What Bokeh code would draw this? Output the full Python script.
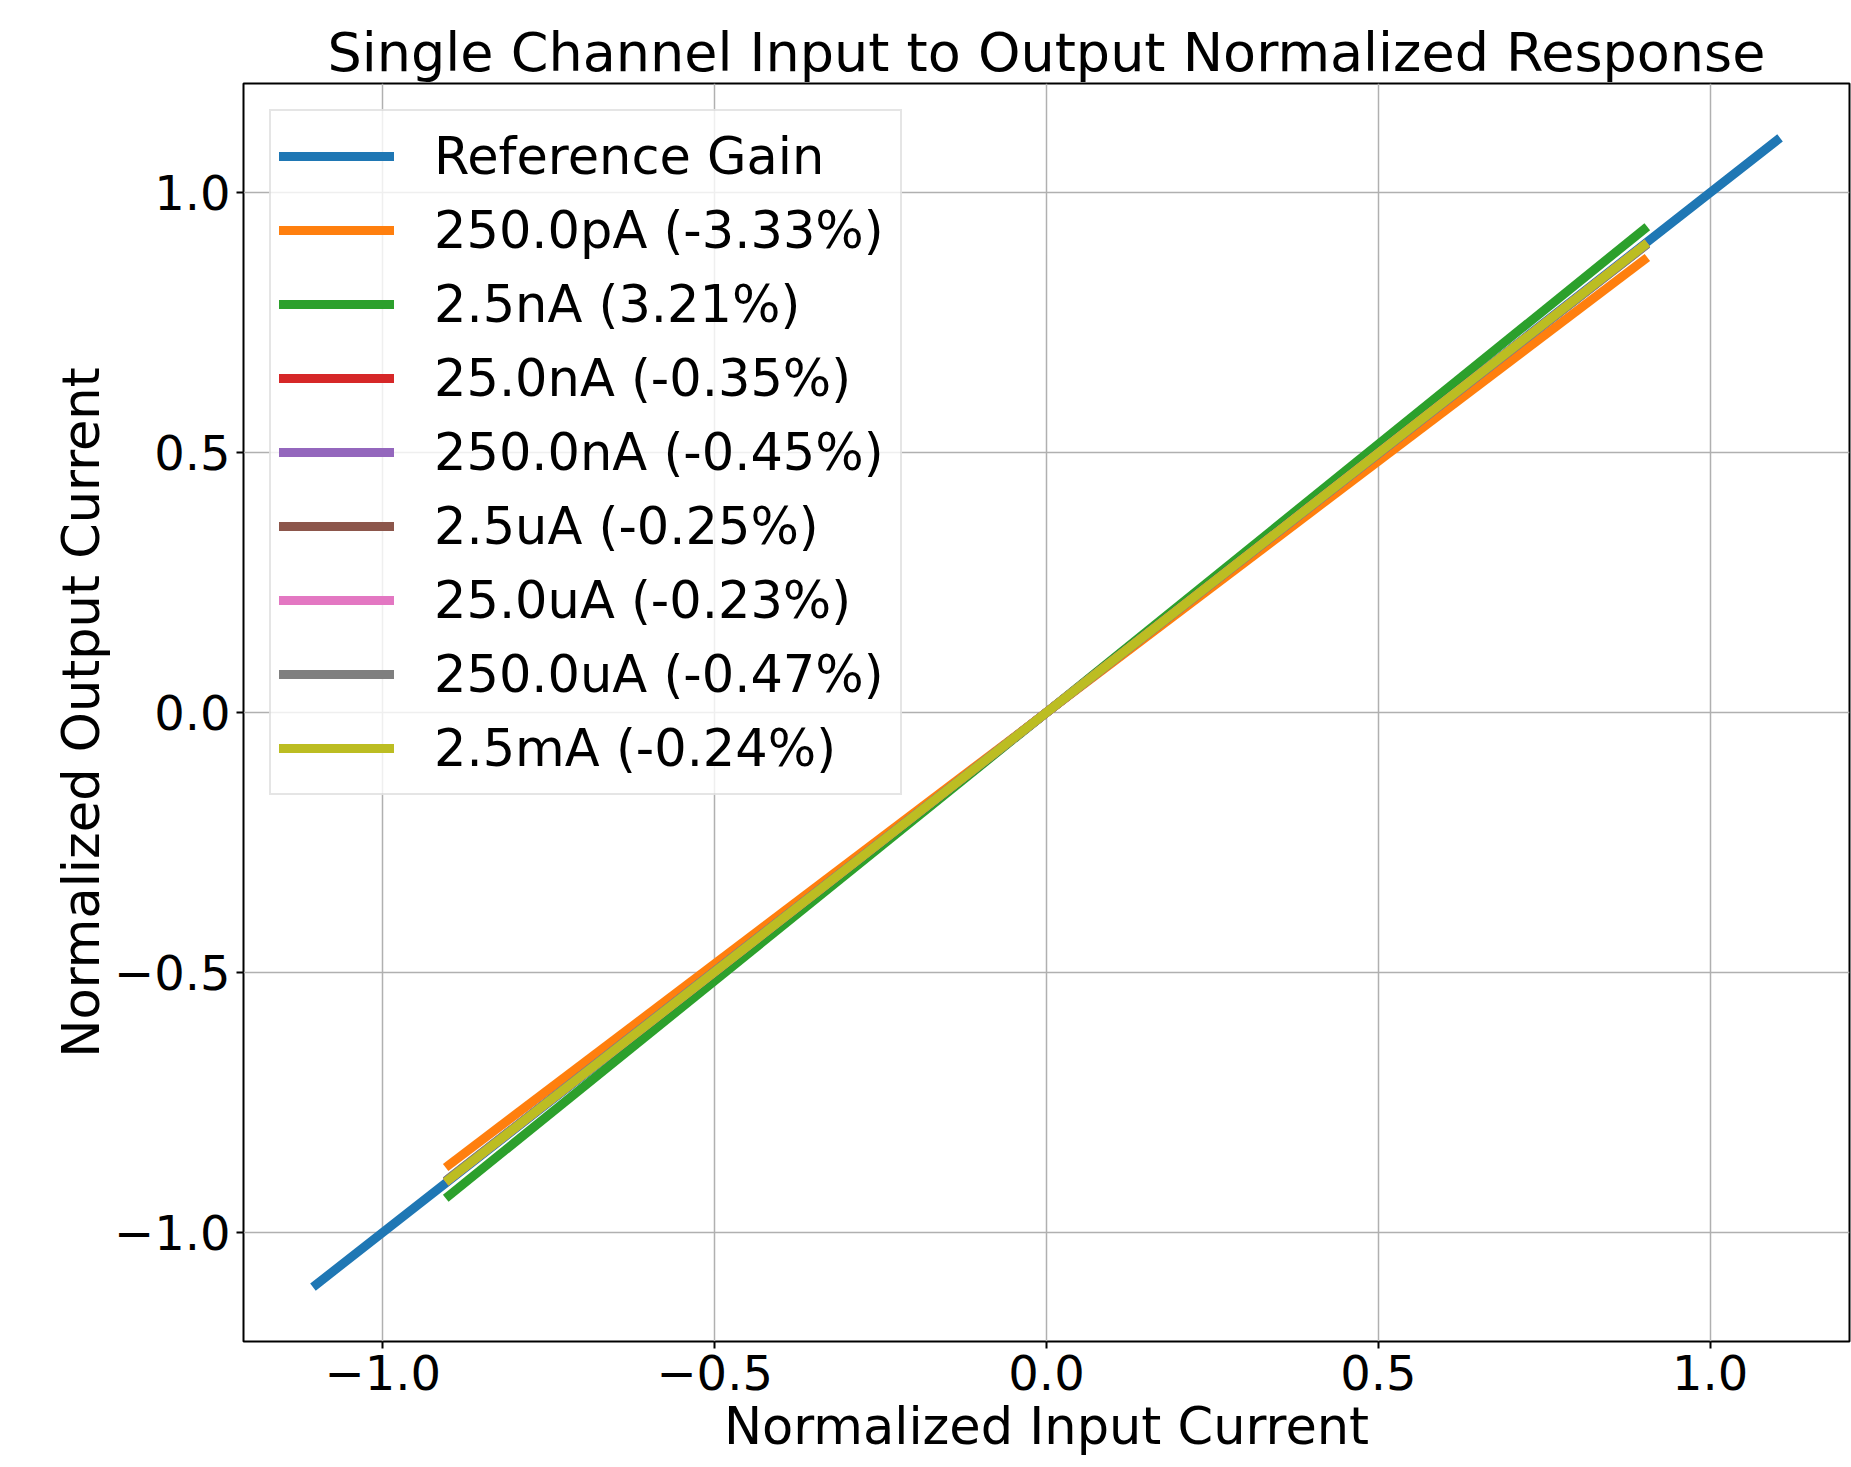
from bokeh.plotting import figure
from bokeh.models import Range1d, FixedTicker, Legend, LegendItem
from bokeh.embed import file_html
from bokeh.resources import INLINE

# ---- data ----
title_text = "Single Channel Input to Output Normalized Response"
x_label = "Normalized Input Current"
y_label = "Normalized Output Current"

ref_name = "Reference Gain"
ref_x = [-1.1, 1.1]
ref_y = [-1.1, 1.1]

series_names = [
    "250.0pA (-3.33%)",
    "2.5nA (3.21%)",
    "25.0nA (-0.35%)",
    "250.0nA (-0.45%)",
    "2.5uA (-0.25%)",
    "25.0uA (-0.23%)",
    "250.0uA (-0.47%)",
    "2.5mA (-0.24%)",
]
input_x = [-0.9, 0.9]
series_y = [
    [-0.870, 0.870],
    [-0.929, 0.929],
    [-0.8969, 0.8969],
    [-0.8960, 0.8960],
    [-0.8978, 0.8978],
    [-0.8979, 0.8979],
    [-0.8958, 0.8958],
    [-0.8978, 0.8978],
]
tick_values = [-1.0, -0.5, 0.0, 0.5, 1.0]
tick_labels = ["\u22121.0", "\u22120.5", "0.0", "0.5", "1.0"]

# ---- style ----
colors = ["#ff7f0e", "#2ca02c", "#d62728", "#9467bd",
          "#8c564b", "#e377c2", "#7f7f7f", "#bcbd22"]
ref_color = "#1f77b4"
FONT = "DejaVu Sans"
LW = 9

p = figure(width=1851, height=1467, output_backend="svg", toolbar_location=None,
           x_range=Range1d(-1.21, 1.21), y_range=Range1d(-1.21, 1.21),
           min_border_left=243, min_border_right=2, min_border_top=83,
           min_border_bottom=126)
p.background_fill_color = "white"
p.border_fill_color = "white"
p.outline_line_color = "black"
p.outline_line_width = 2

p.title.text = title_text
p.title.align = "center"
p.title.text_font = FONT
p.title.text_font_size = "54px"
p.title.text_font_style = "normal"
p.title.text_color = "black"
p.title.standoff = 0

items = []
r = p.line(ref_x, ref_y, color=ref_color, line_width=LW, line_cap="square")
items.append(LegendItem(label=ref_name, renderers=[r]))
for name, ys, c in zip(series_names, series_y, colors):
    r = p.line(input_x, ys, color=c, line_width=LW, line_cap="square")
    items.append(LegendItem(label=name, renderers=[r]))

for ax, lab in ((p.xaxis[0], x_label), (p.yaxis[0], y_label)):
    ax.ticker = FixedTicker(ticks=tick_values, minor_ticks=[])
    ax.major_label_overrides = {v: t for v, t in zip(tick_values, tick_labels)}
    ax.axis_label = lab
    ax.axis_label_text_font = FONT
    ax.axis_label_text_font_size = "51px"
    ax.axis_label_text_font_style = "normal"
    ax.axis_label_text_color = "black"
    ax.major_label_text_font = FONT
    ax.major_label_text_font_size = "48px"
    ax.major_label_text_color = "black"
    ax.axis_line_color = None
    ax.major_tick_out = 7
    ax.major_tick_in = 0
    ax.major_tick_line_width = 2
    ax.major_tick_line_color = "black"
    ax.minor_tick_line_color = None
    ax.major_label_standoff = 6

p.xaxis[0].axis_label_standoff = 4
p.yaxis[0].axis_label_standoff = 0
p.yaxis[0].major_label_orientation = "horizontal"

for g in (p.xgrid[0], p.ygrid[0]):
    g.grid_line_color = "#b0b0b0"
    g.grid_line_width = 1.5
p.xgrid[0].ticker = FixedTicker(ticks=tick_values)
p.ygrid[0].ticker = FixedTicker(ticks=tick_values)

legend = Legend(items=items, location="top_left")
legend.margin = 26
legend.padding = 8
legend.spacing = 0
legend.glyph_width = 115
legend.glyph_height = 74
legend.label_height = 74
legend.label_width = 458
legend.label_standoff = 40
legend.label_text_font = FONT
legend.label_text_font_size = "51px"
legend.label_text_color = "black"
legend.border_line_color = "#cccccc"
legend.border_line_width = 2
legend.background_fill_color = "white"
legend.background_fill_alpha = 0.8
p.add_layout(legend)

open("out.html", "w").write(file_html(p, INLINE))
